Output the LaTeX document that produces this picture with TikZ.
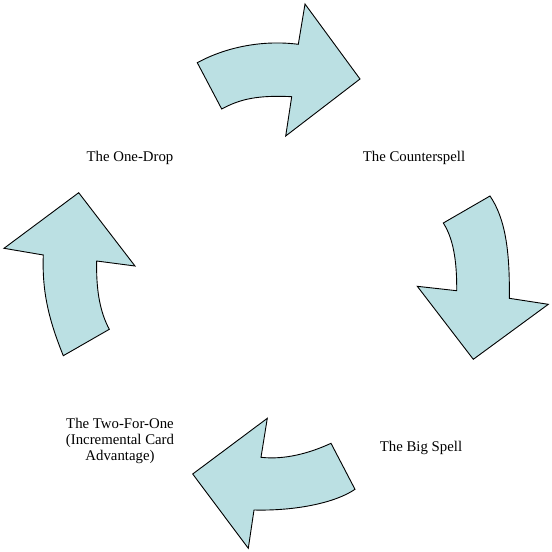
\documentclass[tikz,border=0pt]{standalone}
\usepackage{fontspec}
\setmainfont{Liberation Serif}
\definecolor{arrowblue}{RGB}{187,224,227}
\tikzset{
  arrowshape/.style={fill=arrowblue, draw=black, line width=0.9pt, line join=miter},
  steplabel/.style={font=\fontsize{14.8}{16.3}\selectfont, align=center, inner sep=0pt}
}
\begin{document}
\begin{tikzpicture}[x=1pt,y=-1pt]
    \useasboundingbox (0,0) rectangle (552,552);

    % Arrow 1 (top)
    \draw[arrowshape] (197.3,62.7) -- (221.7,109)
        .. controls (240,99) and (258,95) .. (291.7,96.7)
        -- (285.7,136) -- (360,79) -- (305,4) -- (298.3,44.3)
        .. controls (265,40) and (228,46) .. cycle;

    % Arrow 2 (right)
    \draw[arrowshape] (443.3,223) -- (490,196)
        .. controls (505,218) and (510,250) .. (509.3,298.3)
        -- (548.3,304.3) -- (473.3,359.3) -- (417.3,286.3) -- (456.7,290.7)
        .. controls (457,260) and (453,238) .. cycle;

    % Arrow 3 (bottom)
    \draw[arrowshape] (355,489.3) -- (331,443.3)
        .. controls (310,453) and (285,460) .. (261,457.3)
        -- (267.3,418.3) -- (192.7,474) -- (248.3,548.3) -- (254,510)
        .. controls (295,511) and (335,503) .. cycle;

    % Arrow 4 (left)
    \draw[arrowshape] (63.3,355.7) -- (109.3,329.3)
        .. controls (100,312) and (96,290) .. (96.7,261)
        -- (135,266) -- (78.7,192.7) -- (4,248.3) -- (43.3,255)
        .. controls (42,290) and (48,318) .. cycle;

    % Labels
    \node[steplabel] (onedrop) at (130,158) {The One-Drop};
    \node[steplabel] (counter) at (414,158) {The Counterspell};
    \node[steplabel] (bigspell) at (421,448) {The Big Spell};
    \node[steplabel] (twoforone) at (120,441) {The Two-For-One\\(Incremental Card\\Advantage)};

\end{tikzpicture}
\end{document}
